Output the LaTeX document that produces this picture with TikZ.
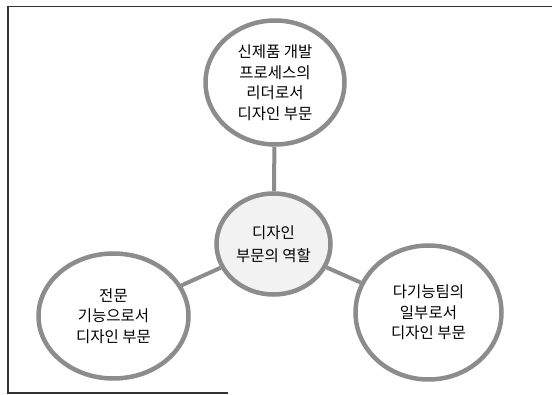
\documentclass[tikz,border=0pt]{standalone}
\usepackage{fontspec}
\newfontfamily\kr{Noto Sans CJK KR}
\usetikzlibrary{shapes.geometric}
\definecolor{ringgray}{gray}{0.55}
\definecolor{framegray}{gray}{0.2}
\tikzset{
  ring/.style={ellipse, draw=ringgray, line width=4.5pt, inner sep=0pt, align=center,
    font=\kr\fontsize{15.5pt}{20.5pt}\selectfont, text=black},
  link/.style={draw=ringgray, line width=4pt},
  frameline/.style={draw=framegray, line width=1.4pt}
}
\begin{document}
\begin{tikzpicture}[x=1pt,y=-1pt]
\useasboundingbox (0,0) rectangle (552,395);
% frame
\coordinate (ftr) at (552,6.5);
\coordinate (ftl) at (8,6.5);
\coordinate (fbl) at (8,393);
\coordinate (fbr) at (228,393);
\draw[frameline] (ftr) -- (ftl) -- (fbl) -- (fbr);
% nodes
\node[ring, minimum width=139pt, minimum height=124pt] (top) at (275,82.5)
  {신제품 개발\\프로세스의\\리더로서\\디자인 부문};
\node[ring, fill=black!5, minimum width=114pt, minimum height=101pt,
  font=\kr\fontsize{15.5pt}{23pt}\selectfont] (mid) at (273.5,244)
  {디자인\\부문의 역할};
\node[ring, minimum width=150pt, minimum height=125pt] (left) at (113.5,316)
  {전문\\기능으로서\\디자인 부문};
\node[ring, minimum width=146pt, minimum height=134pt] (right) at (428.5,312.5)
  {다기능팀의\\일부로서\\디자인 부문};
% connectors
\draw[link] (top) -- (mid);
\draw[link] (mid) -- (left);
\draw[link] (mid) -- (right);
\end{tikzpicture}
\end{document}
